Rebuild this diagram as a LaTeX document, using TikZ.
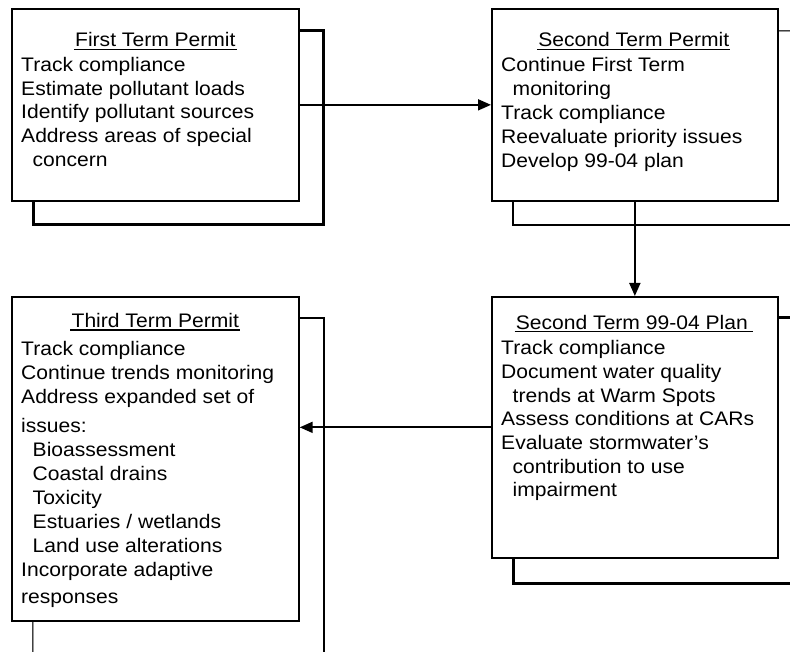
\documentclass[tikz,border=0pt]{standalone}
\usepackage{fontspec}
\newfontfamily\diagfont[FakeStretch=1.075]{Liberation Sans}
\usetikzlibrary{arrows.meta,backgrounds}
\begin{document}
\begin{tikzpicture}[x=1pt,y=-1pt,
  stepbox/.style={draw, fill=white, line width=1.7pt, rectangle, inner sep=0pt, anchor=north west},
  backline/.style={draw, line width=#1},
  greyline/.style={draw=black!75, line width=0.8pt, double=black!40, double distance=0.8pt},
  heading/.style={font={\diagfont\fontsize{19.6}{23.8}\selectfont}, inner sep=0pt, anchor=base},
  items/.style={font={\diagfont\fontsize{19.6}{#1}\selectfont}, inner sep=0pt, anchor=base west},
  uline/.style={line width=1.3pt},
  flow/.style={line width=1.8pt, -{Triangle[length=13pt,width=11pt]}}
]
\useasboundingbox (0,0) rectangle (790,652);
\clip (0,0) rectangle (790,652);

% the four permit boxes
\node[stepbox, minimum width=287pt, minimum height=192pt] (b1) at (11,8) {};
\node[stepbox, minimum width=286pt, minimum height=192pt] (b2) at (491,8) {};
\node[stepbox, minimum width=287pt, minimum height=324pt] (b3) at (11,296) {};
\node[stepbox, minimum width=286pt, minimum height=261pt] (b4) at (491,296) {};

% headings
\node[heading] (h1) at ([shift={(0,39)}]b1.north) {First Term Permit};
\node[heading] (h2) at ([shift={(-1,38.7)}]b2.north) {Second Term Permit};
\node[heading] (h3) at ([shift={(0,31.5)}]b3.north) {Third Term Permit};
\node[heading] (h4) at ([shift={(-3,33.5)}]b4.north) {Second Term 99-04 Plan};
\draw[uline] ([shift={(-1,2.5)}]h1.base west) -- ([shift={(1,2.5)}]h1.base east);
\draw[uline] ([shift={(-1,2.5)}]h2.base west) -- ([shift={(1,2.5)}]h2.base east);
\draw[uline] ([shift={(-1,2.5)}]h3.base west) -- ([shift={(1,2.5)}]h3.base east);
\draw[uline] ([shift={(-1,2)}]h4.base west) -- ([shift={(5,2)}]h4.base east);

% item lists
\node[items=23.8] (l1) at ([shift={(10,63.3)}]b1.north west) {\begin{tabular}[t]{@{}l@{}}
Track compliance\\
Estimate pollutant loads\\
Identify pollutant sources\\
Address areas of special\\
\hspace*{11.5pt}concern
\end{tabular}};
\node[items=23.8] (l2) at ([shift={(10,64)}]b2.north west) {\begin{tabular}[t]{@{}l@{}}
Continue First Term\\
\hspace*{11.5pt}monitoring\\
Track compliance\\
Reevaluate priority issues\\
Develop 99-04 plan
\end{tabular}};
\node[items=24] (l3) at ([shift={(10,59.5)}]b3.north west) {\begin{tabular}[t]{@{}l@{}}
Track compliance\\
Continue trends monitoring\\
Address expanded set of\\[5.5pt]
issues:\\
\hspace*{11.5pt}Bioassessment\\
\hspace*{11.5pt}Coastal drains\\
\hspace*{11.5pt}Toxicity\\
\hspace*{11.5pt}Estuaries / wetlands\\
\hspace*{11.5pt}Land use alterations\\
Incorporate adaptive\\[3pt]
responses
\end{tabular}};
\node[items=23.7] (l4) at ([shift={(10,58.8)}]b4.north west) {\begin{tabular}[t]{@{}l@{}}
Track compliance\\
Document water quality\\
\hspace*{11.5pt}trends at Warm Spots\\
Assess conditions at CARs\\
Evaluate stormwater’s\\
\hspace*{11.5pt}contribution to use\\
\hspace*{11.5pt}impairment
\end{tabular}};

% offset shadow outlines behind the boxes
\begin{scope}[on background layer]
  \fill[white] (0,0) rectangle (790,652);
  \draw[backline=3pt] ([shift={(22,23)}]b1.north west) rectangle ([shift={(24,23)}]b1.south east);
  \draw[backline=2pt] ([shift={(24,23)}]b2.north east) -- ([shift={(24,23)}]b2.south east)
     -- ([shift={(22,23)}]b2.south west) -- ([shift={(22,23)}]b2.north west);
  \draw[greyline] ([shift={(22,23)}]b2.north west) -- ([shift={(24,23)}]b2.north east);
  \draw[backline=2pt] ([shift={(22,22)}]b3.north west)
     -- ([shift={(24,22)}]b3.north east) -- ([shift={(24,40)}]b3.south east);
  \draw[greyline] ([shift={(22,22)}]b3.north west) -- ([shift={(22,40)}]b3.south west);
  \draw[backline=3pt] ([shift={(22,22)}]b4.north west) rectangle ([shift={(30,25)}]b4.south east);
\end{scope}

% flow between the stages
\draw[flow] (b1.east) -- (b2.west);
\draw[flow] (b2.south) -- (b4.north);
\draw[flow] (b4.west) -- (b4.west -| b3.east);
\end{tikzpicture}
\end{document}
